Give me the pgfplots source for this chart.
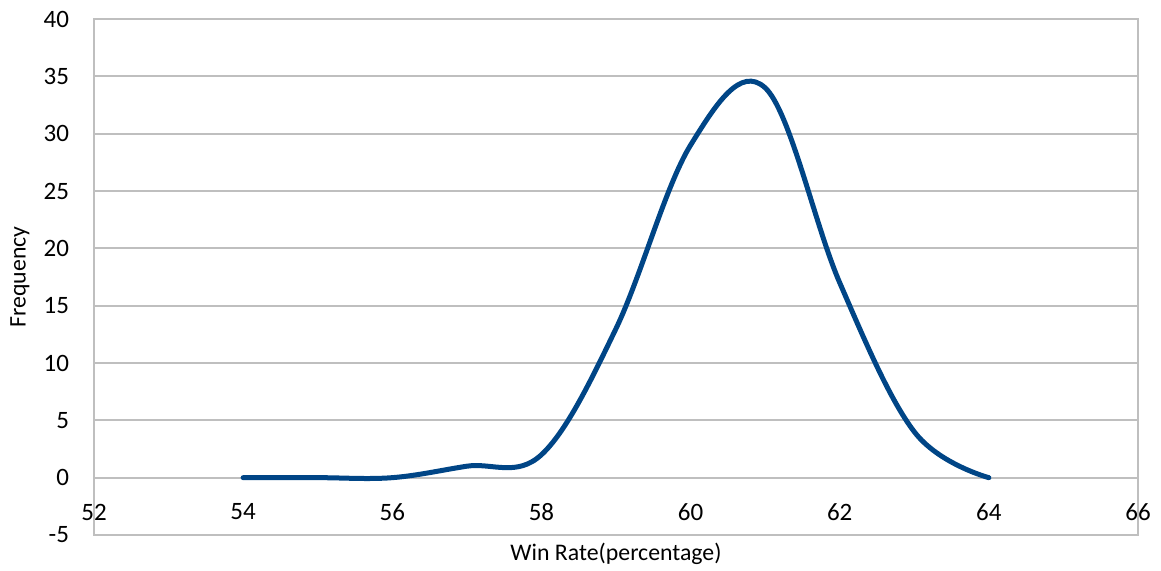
\documentclass[border=0pt]{standalone}
\usepackage{pgfplots}
\pgfplotsset{compat=1.18}
\usepackage{fontspec}
\setmainfont{Carlito}
\definecolor{curveblue}{RGB}{0,69,134}
\definecolor{gridgray}{RGB}{191,191,191}
\begin{document}
\begin{tikzpicture}
\begin{axis}[
  scale only axis,
  width=522pt, height=258pt,
  xmin=52, xmax=66, ymin=-5, ymax=40,
  xtick={52,54,...,66}, ytick={-5,0,...,40},
  major tick length=0pt,
  axis line style={gridgray, line width=0.9pt},
  ymajorgrids, grid style={gridgray, line width=0.9pt},
  /pgf/number format/assume math mode=true,
  tick label style={font=\fontsize{12.5}{14}\selectfont, black},
  x tick label style={anchor=center, yshift=11.5pt},
  y tick label style={anchor=east, xshift=-9pt},
  xlabel={Win Rate(percentage)},
  ylabel={Frequency},
  every axis x label/.style={at={(axis description cs:0.5,0)}, anchor=center, yshift=-9.5pt, font=\fontsize{11.9}{14}\selectfont},
  every axis y label/.style={at={(axis description cs:0,0.5)}, anchor=center, rotate=90, yshift=37pt, font=\fontsize{11.9}{14}\selectfont},
]
\addplot[curveblue, line width=2.5pt, smooth, tension=0.6, line cap=round, line join=round] coordinates {
  (54,0) (55,0) (56,0) (57,1) (58,2) (59,13) (60,29) (61,34) (62,17) (63,4) (64,0)
};
\end{axis}
\pgfresetboundingbox
\path (-47pt,-18pt) rectangle (533.5pt,267.5pt);
\end{tikzpicture}
\end{document}
